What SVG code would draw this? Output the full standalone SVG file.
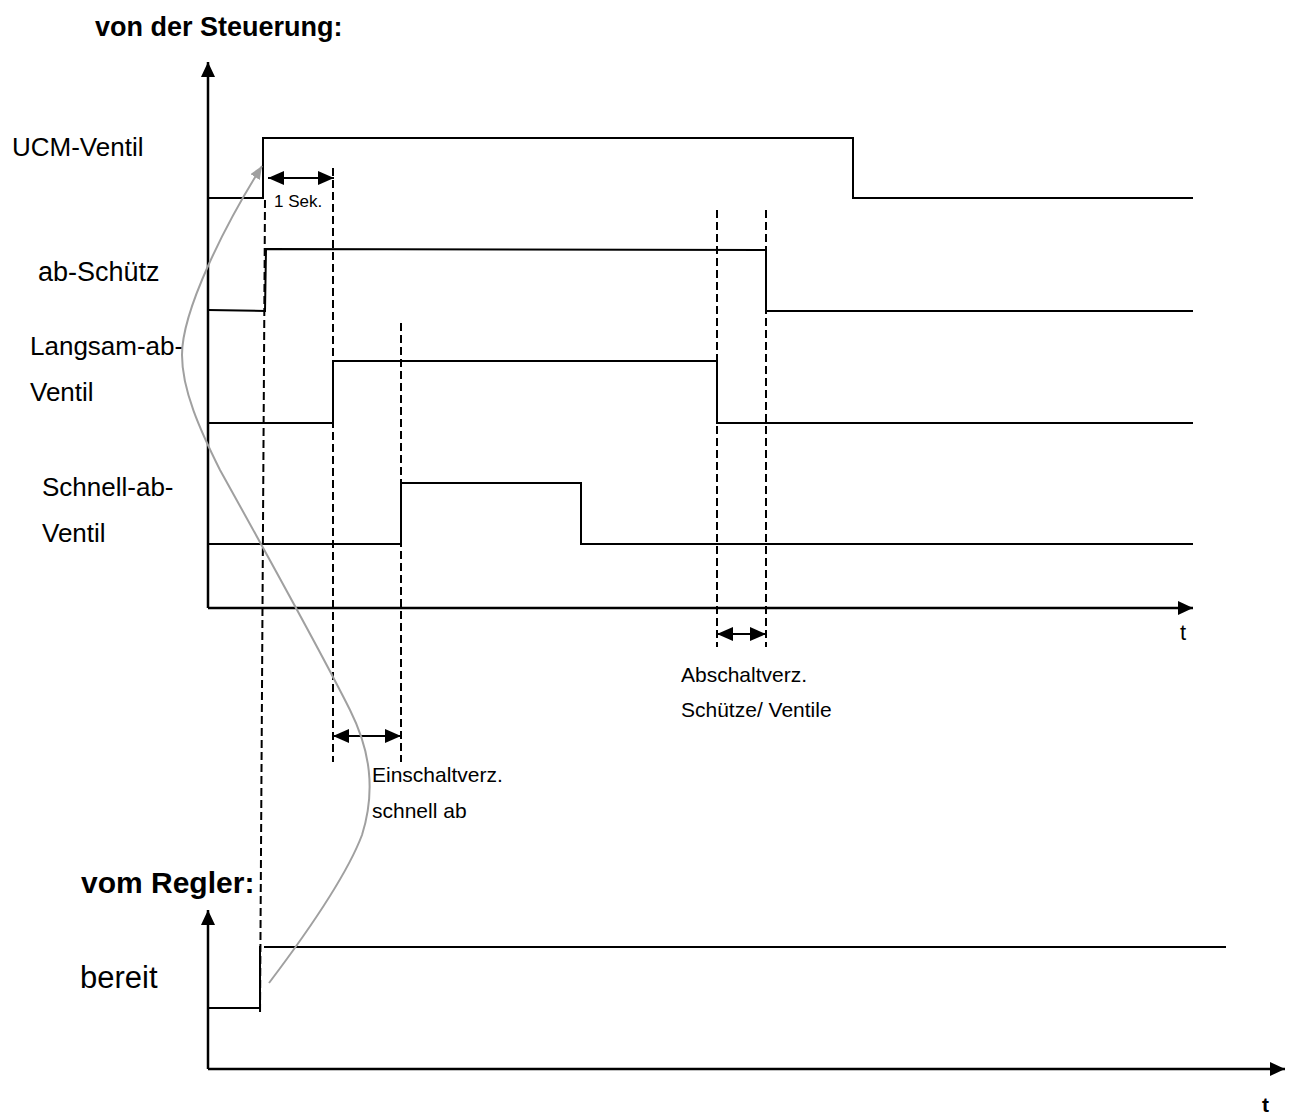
<svg xmlns="http://www.w3.org/2000/svg" width="1295" height="1117" viewBox="0 0 1295 1117">
<style>
.sig{fill:none;stroke:#000;stroke-width:2}
.axis{fill:none;stroke:#000;stroke-width:2.5}
.dash{fill:none;stroke:#000;stroke-width:2;stroke-dasharray:8,4}
.dim{fill:none;stroke:#000;stroke-width:2}
.lbl{font-family:"Liberation Sans",Arial,sans-serif;fill:#000}
.hd{font-family:"Liberation Sans",Arial,sans-serif;font-weight:bold;fill:#000}
</style>
<defs>
<marker id="ax" markerUnits="userSpaceOnUse" markerWidth="16" markerHeight="14" refX="15" refY="7" orient="auto">
<path d="M0,0 L15,7 L0,14 z" fill="#000"/>
</marker>
<marker id="dh" markerUnits="userSpaceOnUse" markerWidth="16" markerHeight="14" refX="16" refY="7" orient="auto-start-reverse">
<path d="M0,0 L16,7 L0,14 z" fill="#000"/>
</marker>
<marker id="ga" markerUnits="userSpaceOnUse" markerWidth="14" markerHeight="12" refX="13" refY="5.5" orient="auto">
<path d="M0,0 L13,5.5 L0,11 z" fill="#a0a0a0"/>
</marker>
</defs>
<rect width="1295" height="1117" fill="#fff"/>

<g id="titles">
<text class="hd" x="95" y="36" font-size="27">von der Steuerung:</text>
<text class="hd" x="81" y="893" font-size="30">vom Regler:</text>
</g>

<g id="axes-top">
<line class="axis" x1="208" y1="608" x2="208" y2="62" marker-end="url(#ax)"/>
<line class="axis" x1="208" y1="608" x2="1193" y2="608" marker-end="url(#ax)"/>
<text class="lbl" x="1180" y="640" font-size="22">t</text>
</g>

<g id="axes-bottom">
<line class="axis" x1="208" y1="1069" x2="208" y2="910" marker-end="url(#ax)"/>
<line class="axis" x1="208" y1="1069" x2="1285" y2="1069" marker-end="url(#ax)"/>
<text class="hd" x="1262" y="1112" font-size="21">t</text>
</g>

<g id="ucm-ventil">
<text class="lbl" x="12" y="156" font-size="26">UCM-Ventil</text>
<polyline class="sig" points="208,198 263,198 263,138 853,138 853,198 1193,198"/>
</g>

<g id="ab-schuetz">
<text class="lbl" x="38" y="281" font-size="27">ab-Schütz</text>
<polyline class="sig" points="208,310 265,311 266,249 766,250 766,311 1193,311"/>
</g>

<g id="langsam-ab-ventil">
<text class="lbl" x="30" y="355" font-size="26">Langsam-ab-</text>
<text class="lbl" x="30" y="401" font-size="26">Ventil</text>
<polyline class="sig" points="208,423 333,423 333,361 717,361 717,423 1193,423"/>
</g>

<g id="schnell-ab-ventil">
<text class="lbl" x="42" y="496" font-size="26">Schnell-ab-</text>
<text class="lbl" x="42" y="542" font-size="26">Ventil</text>
<polyline class="sig" points="208,544 401,544 401,483 581,483 581,544 1193,544"/>
</g>

<g id="bereit">
<text class="lbl" x="80" y="988" font-size="31">bereit</text>
<polyline class="sig" points="208,1008 260,1008 260,946"/>
<line class="sig" x1="264" y1="947" x2="1226" y2="947"/>
</g>

<g id="connectors">
<line class="dash" x1="265" y1="200" x2="260" y2="1016"/>
<line class="dash" x1="333" y1="168" x2="333" y2="762"/>
<line class="dash" x1="401" y1="323" x2="401" y2="762"/>
<line class="dash" x1="717" y1="210" x2="717" y2="647"/>
<line class="dash" x1="766" y1="210" x2="766" y2="647"/>

<line class="dim" x1="268" y1="178" x2="334" y2="178" marker-start="url(#dh)" marker-end="url(#dh)"/>
<line class="dim" x1="333" y1="736" x2="401" y2="736" marker-start="url(#dh)" marker-end="url(#dh)"/>
<line class="dim" x1="717" y1="634" x2="766" y2="634" marker-start="url(#dh)" marker-end="url(#dh)"/>

<path d="M269,983 C300,942 345,880 362,835 C376,790 370,750 350,710 C330,670 270,560 220,470 C200,430 182,390 182,355 C182,310 225,225 262,166" fill="none" stroke="#a0a0a0" stroke-width="2" marker-end="url(#ga)"/>
</g>

<g id="dim-labels">
<text class="lbl" x="274" y="207" font-size="17">1 Sek.</text>
<text class="lbl" x="372" y="782" font-size="21">Einschaltverz.</text>
<text class="lbl" x="372" y="818" font-size="21">schnell ab</text>
<text class="lbl" x="681" y="682" font-size="21">Abschaltverz.</text>
<text class="lbl" x="681" y="717" font-size="21">Schütze/ Ventile</text>
</g>
</svg>
